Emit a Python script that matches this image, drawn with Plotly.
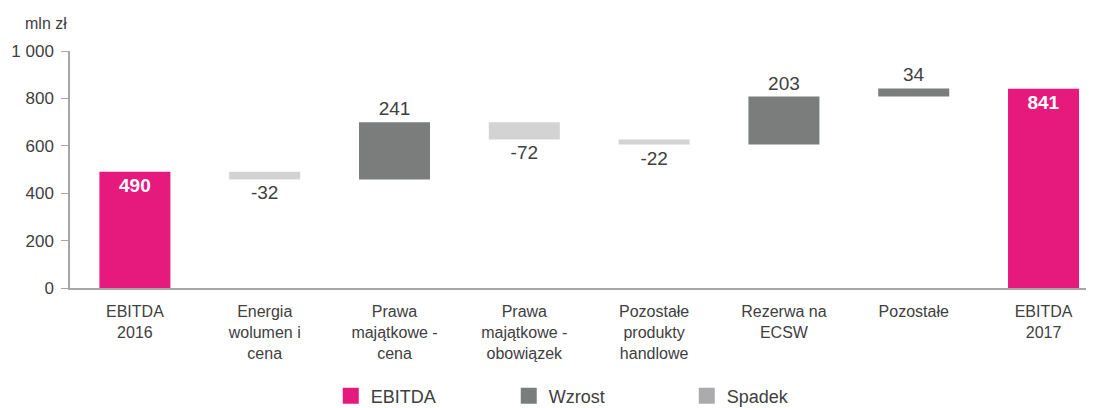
import plotly.graph_objects as go

categories = ["EBITDA<br>2016", "Energia<br>wolumen i<br>cena", "Prawa<br>majątkowe -<br>cena",
              "Prawa<br>majątkowe -<br>obowiązek", "Pozostałe<br>produkty<br>handlowe",
              "Rezerwa na<br>ECSW", "Pozostałe", "EBITDA<br>2017"]
changes = [490, -32, 241, -72, -22, 203, 34, 841]
kinds = ["EBITDA", "Spadek", "Wzrost", "Spadek", "Spadek", "Wzrost", "Wzrost", "EBITDA"]
y_tickvals = [0, 200, 400, 600, 800, 1000]
y_ticktext = ["0", "200", "400", "600", "800", "1 000"]

colors = {"EBITDA": "#E6197D", "Wzrost": "#7B7D7D", "Spadek": "#D3D3D3"}
legend_colors = {"EBITDA": "#E6197D", "Wzrost": "#7B7D7D", "Spadek": "#ABABAD"}

# compute bases from running total
bases = []
running = 0
for v, k in zip(changes, kinds):
    if k == "EBITDA":
        bases.append(0)
        running = v
    else:
        bases.append(running)
        running += v

fig = go.Figure()
font_family = "Liberation Sans, Arial, sans-serif"
for kind in ["EBITDA", "Wzrost", "Spadek"]:
    xs = [c for c, k in zip(categories, kinds) if k == kind]
    ys = [v for v, k in zip(changes, kinds) if k == kind]
    bs = [b for b, k in zip(bases, kinds) if k == kind]
    if kind == "EBITDA":
        tp = "inside"
        tf = dict(color="white", size=19, family=font_family, weight="bold")
    else:
        tp = "outside"
        tf = dict(color="#404040", size=19, family=font_family)
    fig.add_trace(go.Bar(
        x=xs, y=ys, base=bs, name=kind, marker_color=colors[kind],
        marker_line_width=0, text=[str(v) for v in ys], textposition=tp,
        insidetextanchor="end", textfont=tf, cliponaxis=False,
        showlegend=False, hoverinfo="skip",
    ))
for kind in ["EBITDA", "Wzrost", "Spadek"]:
    fig.add_trace(go.Scatter(
        x=[None], y=[None], name=kind, mode="markers",
        marker=dict(symbol="square", size=16, color=legend_colors[kind]),
        showlegend=True,
    ))

fig.update_layout(
    template="none",
    width=1086, height=400,
    margin=dict(l=62, r=4, t=43, b=120, autoexpand=False),
    barmode="overlay", bargap=0.453,
    plot_bgcolor="white", paper_bgcolor="white",
    font=dict(family=font_family, color="#404040", size=16),
    showlegend=True,
    legend=dict(orientation="h", xref="container", x=0.2972, xanchor="left",
                yref="container", y=0.03, yanchor="middle", bgcolor="rgba(0,0,0,0)",
                font=dict(size=18, color="#404040"), entrywidth=133, entrywidthmode="pixels",
                itemwidth=30, traceorder="normal"),
)
fig.add_annotation(text="mln zł", xref="paper", yref="paper", x=-0.0238, y=1.114,
                   xanchor="center", yanchor="middle", showarrow=False,
                   font=dict(size=16, color="#404040"))
fig.update_xaxes(categoryorder="array", categoryarray=categories, range=[-0.5, 7.358],
                 automargin=False, showline=True, linecolor="#A6A6A6", linewidth=1.5,
                 ticks="", showgrid=False, zeroline=False,
                 ticklabelstandoff=8, tickfont=dict(size=16, color="#404040"))
fig.update_yaxes(range=[0, 1000], tickvals=y_tickvals, ticktext=y_ticktext, showline=True,
                 automargin=False, linecolor="#A6A6A6", linewidth=1.5, ticks="outside", ticklen=7,
                 tickcolor="#A6A6A6", showgrid=False, zeroline=False, ticklabelstandoff=4,
                 tickfont=dict(size=17, color="#404040"))

fig.write_html("out.html")
